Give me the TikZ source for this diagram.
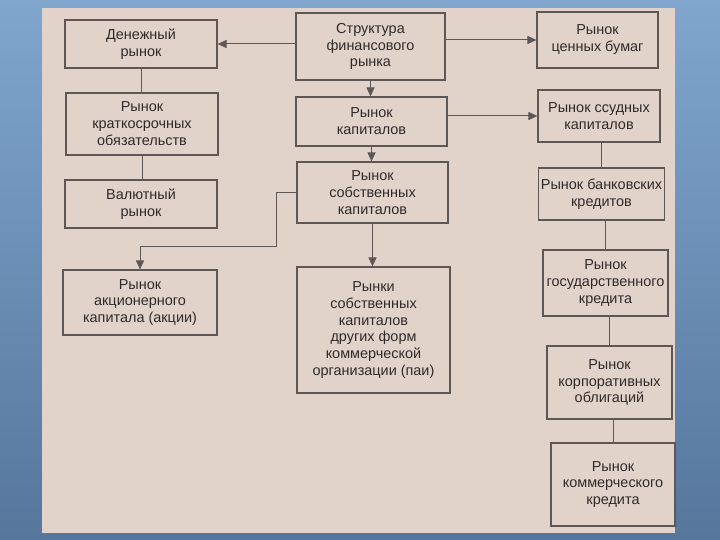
\documentclass[tikz,border=0pt]{standalone}
\usepackage{fontspec}
\setmainfont{Liberation Sans}
\usetikzlibrary{arrows.meta, positioning}
\definecolor{bgtop}{RGB}{128,166,206}
\definecolor{bgbot}{RGB}{86,118,156}
\definecolor{paper}{RGB}{226,211,202}
\definecolor{ink}{RGB}{48,42,42}
\definecolor{boxline}{RGB}{95,86,86}
\tikzset{
  box/.style={rectangle, draw=boxline, line width=1.1pt, align=center,
    font=\fontsize{14.5}{17}\selectfont, text=ink, inner sep=2pt},
  link/.style={draw=boxline, line width=1pt},
  arrow/.style={-{Triangle[length=9pt,width=8pt]}, draw=boxline, line width=1pt}
}
\begin{document}
\begin{tikzpicture}[x=1bp, y=-1bp]
  % Background and page
  \useasboundingbox (0,0) rectangle (720,540);
  \shade[top color=bgtop, bottom color=bgbot] (0,0) rectangle (720,540);
  \fill[paper] (42,8) rectangle (675,533);
  % Centre column
  \node[box, minimum width=149bp, minimum height=67bp] (struct) at (370.5,46.5) {Структура\\финансового\\рынка};
  \node[box, minimum width=151bp, minimum height=49bp] (cap) at (371.5,121.5) {Рынок\\капиталов};
  \node[box, minimum width=151bp, minimum height=61bp] (own) at (372.5,192.5) {Рынок\\собственных\\капиталов};
  \node[box, minimum width=153bp, minimum height=126bp] (pai) at (373.5,330) {Рынки\\собственных\\капиталов\\других форм\\коммерческой\\организации (паи)};
  % Left column
  \node[box, minimum width=152bp, minimum height=48bp] (money) at (141,44) {Денежный\\рынок};
  \node[box, minimum width=152bp, minimum height=62bp] (short) at (142,124) {Рынок\\краткосрочных\\обязательств};
  \node[box, minimum width=152bp, minimum height=48bp] (fx) at (141,204) {Валютный\\рынок};
  \node[box, minimum width=154bp, minimum height=65bp] (shares) at (140,302.5) {Рынок\\акционерного\\капитала (акции)};
  % Right column
  \node[box, minimum width=121bp, minimum height=56bp] (secur) at (597.5,40) {Рынок\\ценных бумаг};
  \node[box, minimum width=122bp, minimum height=52bp] (loan) at (599,116) {Рынок ссудных\\капиталов};
  \node[box, minimum width=123bp, minimum height=52bp] (bank) at (601.5,194) {Рынок банковских\\кредитов};
  \node[box, minimum width=125bp, minimum height=66bp] (state) at (605.5,283) {Рынок\\государственного\\кредита};
  \node[box, minimum width=125bp, minimum height=73bp] (corp) at (609.5,382.5) {Рынок\\корпоративных\\облигаций};
  \node[box, minimum width=124bp, minimum height=83bp] (comm) at (613,484.5) {Рынок\\коммерческого\\кредита};
  \coordinate (bendA) at (276,246);
  % Arrows
  \draw[arrow] (struct.west |- money.east) -- (money.east);
  \draw[arrow] (struct.east |- secur.west) -- (secur.west);
  \draw[arrow] (struct.south) -- (struct.south |- cap.north);
  \draw[arrow] (cap.east |- loan.west) -- (loan.west);
  \draw[arrow] (cap.south) -- (cap.south |- own.north);
  \draw[arrow] (own.south) -- (own.south |- pai.north);
  \draw[arrow] (own.west) -| (bendA) -| (shares.north);
  % Plain links
  \draw[link] (money.south) -- (money.south |- short.north);
  \draw[link] (short.south) -- (short.south |- fx.north);
  \draw[link] (bank.north |- loan.south) -- (bank.north);
  \draw[link] (state.north |- bank.south) -- (state.north);
  \draw[link] (corp.north |- state.south) -- (corp.north);
  \draw[link] (comm.north |- corp.south) -- (comm.north);
\end{tikzpicture}
\end{document}
